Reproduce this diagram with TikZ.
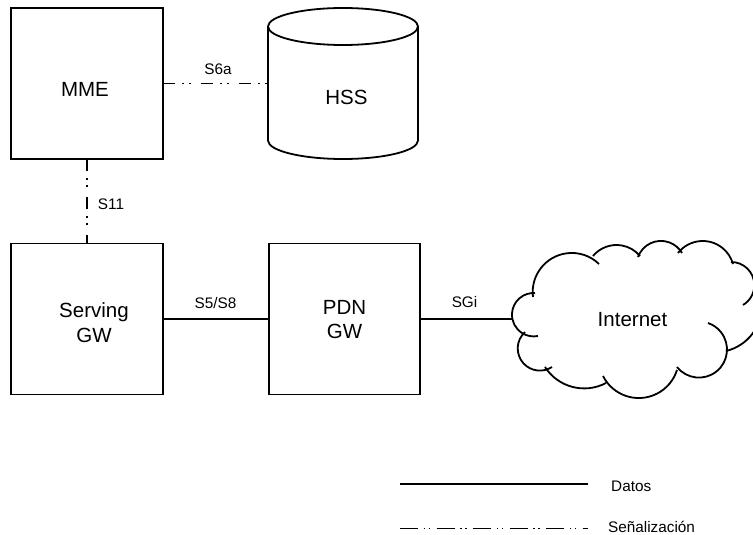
\documentclass[tikz,border=0pt]{standalone}
\usepackage{fontspec}
\setmainfont{Liberation Sans}

% One bump of the cloud outline: circular arc through three points
% (x1,y1) -> (x2,y2) -> (x3,y3), given in picture units with y pointing down.
\newcommand\cloudbump[6]{%
  \pgfmathsetmacro\cbua{(#1-#3)/10}%
  \pgfmathsetmacro\cbva{(#4-#2)/10}%
  \pgfmathsetmacro\cbuc{(#5-#3)/10}%
  \pgfmathsetmacro\cbvc{(#4-#6)/10}%
  \pgfmathsetmacro\cbsa{(\cbua)*(\cbua)+(\cbva)*(\cbva)}%
  \pgfmathsetmacro\cbsc{(\cbuc)*(\cbuc)+(\cbvc)*(\cbvc)}%
  \pgfmathsetmacro\cbd{2*((\cbuc)*(\cbva)-(\cbua)*(\cbvc))}%
  \pgfmathsetmacro\cbux{((\cbsc)*(\cbva)-(\cbsa)*(\cbvc))/(\cbd)}%
  \pgfmathsetmacro\cbuy{((\cbsa)*(\cbuc)-(\cbsc)*(\cbua))/(\cbd)}%
  \pgfmathsetmacro\cbr{10*sqrt((\cbux)*(\cbux)+(\cbuy)*(\cbuy))}%
  \pgfmathsetmacro\cbcx{#3+10*(\cbux)}%
  \pgfmathsetmacro\cbcy{-#4+10*(\cbuy)}%
  \pgfmathsetmacro\cbaa{atan2((\cbva)-(\cbuy),(\cbua)-(\cbux))}%
  \pgfmathsetmacro\cbab{atan2(-(\cbuy),-(\cbux))}%
  \pgfmathsetmacro\cbac{atan2((\cbvc)-(\cbuy),(\cbuc)-(\cbux))}%
  \pgfmathsetmacro\cbdb{mod((\cbab)-(\cbaa)+720,360)}%
  \pgfmathsetmacro\cbdc{mod((\cbac)-(\cbaa)+720,360)}%
  \pgfmathsetmacro\cbdelta{ifthenelse((\cbdb)<(\cbdc),\cbdc,(\cbdc)-360)}%
  \draw[cloudline] (\cbcx pt,\cbcy pt) ++(\cbaa:\cbr pt)
    arc[start angle=\cbaa, delta angle=\cbdelta, radius=\cbr pt];%
}

\begin{document}
\begin{tikzpicture}[x=1pt,y=-1pt,
  box/.style={draw, line width=1.8pt, minimum width=152pt, minimum height=151pt,
              inner sep=0pt, outer sep=0pt},
  area/.style={minimum width=150pt, minimum height=151pt, inner sep=0pt, outer sep=0pt},
  shapeline/.style={line width=1.8pt},
  cloudline/.style={line width=1.8pt},
  data/.style={line width=1.5pt},
  sig/.style={line width=1.5pt,
              dash pattern=on 12pt off 7pt on 1.5pt off 5.5pt on 1.5pt off 10.5pt},
  legsig/.style={line width=1.5pt,
              dash pattern=on 18pt off 5.5pt on 1.5pt off 3.5pt on 1.5pt off 6.5pt},
  bigtxt/.style={font=\fontsize{20.5}{24.5}\selectfont, inner sep=0pt, align=center},
  lbl/.style={font=\fontsize{15.3}{18}\selectfont, inner sep=0pt}]

\useasboundingbox (0,0) rectangle (753,535);

% network elements
\node[box] (mme) at (87,83.5) {};
\node[box] (sgw) at (87,319) {};
\node[box, minimum width=151pt] (pgw) at (344.5,319) {};
\node[area] (hss) at (343,83.5) {};

% HSS database cylinder
\draw[shapeline] (268,26.5) -- (268,140.5)
  arc[start angle=180, end angle=360, x radius=75pt, y radius=18.5pt]
  -- (418,26.5);
\draw[shapeline] (343,26.5) ellipse[x radius=75pt, y radius=18.5pt];

% element names
\node[bigtxt] (mmetxt) at (85,89) {MME};
\node[bigtxt] (hsstxt) at (346.5,97.5) {HSS};
\node[bigtxt] (sgwtxt) at (94,322.5) {Serving\\GW};
\node[bigtxt] (pgwtxt) at (344.5,319.5) {PDN\\GW};

% Internet cloud
\begin{scope}
  \clip (0,0) rectangle (753,535);
  \cloudbump{535}{293}{512}{316}{538}{336}
  \cloudbump{525}{332}{518}{352}{552}{367}
  \cloudbump{545}{367}{578}{388}{606}{383}
  \cloudbump{603}{376}{637}{398}{677}{370}
  \cloudbump{677}{367}{727}{350}{708}{323}
  \cloudbump{726}{351}{753}{333}{762}{305}
  \cloudbump{731}{262}{752}{275}{743}{305}
  \cloudbump{678}{253}{703}{241}{733}{264}
  \cloudbump{638}{257}{663}{241}{682}{253}
  \cloudbump{593}{256}{617}{245}{640}{256}
  \cloudbump{533}{297}{570}{253}{599}{264}
\end{scope}
\node[bigtxt] (inettxt) at (632.5,320) {Internet};
\coordinate (cloudW) at (512,319);

% interfaces
\draw[sig] (mme) -- (hss);
\draw[sig] (mme) -- (sgw);
\draw[data] (sgw) -- (pgw);
\draw[data] (pgw.east) -- (cloudW);

\node[lbl] (s6a) at (218,69) {S6a};
\node[lbl] (s11) at (111,204) {S11};
\node[lbl] (s5s8) at (215.5,303) {S5/S8};
\node[lbl] (sgi) at (464.5,302.5) {SGi};

% legend
\coordinate (legDa) at (400,484);
\coordinate (legDb) at (588,484);
\coordinate (legSa) at (400,528.5);
\coordinate (legSb) at (588,528.5);
\draw[data] (legDa) -- (legDb);
\draw[legsig] (legSa) -- (legSb);
\node[lbl, anchor=base west] (datos) at (611,491) {Datos};
\node[lbl, anchor=base west] (senal) at (608,532.5) {Señalización};

\end{tikzpicture}
\end{document}
